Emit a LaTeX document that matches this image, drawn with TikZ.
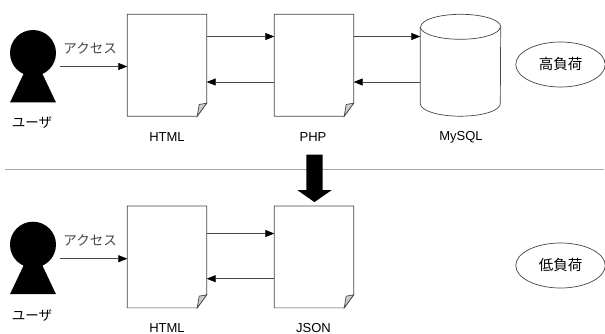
\documentclass[tikz,border=0pt]{standalone}
\usepackage{fontspec}
\setmainfont{Liberation Sans}
\newfontfamily\jpfont{Noto Sans CJK JP}
\usetikzlibrary{arrows.meta,shapes.geometric,shapes.arrows,positioning}
\definecolor{lineblack}{RGB}{70,70,70}
\definecolor{foldgray}{RGB}{205,205,205}
\definecolor{rulegray}{RGB}{170,170,170}
\tikzstyle{arrow} = [line width=0.7pt,color=lineblack,-{Triangle[length=9pt,width=7pt,color=black]}]
\tikzstyle{doc} = [rectangle, minimum width=79pt, minimum height=101.5pt, inner sep=0pt]
\tikzstyle{outline} = [line width=0.7pt, draw=lineblack]
\tikzstyle{label} = [font=\fontsize{13}{13}\selectfont, inner sep=0pt]
\tikzstyle{jplabel} = [font=\fontsize{13.5}{14}\selectfont\jpfont, inner sep=0pt]
\tikzstyle{load} = [ellipse, outline, minimum width=89.5pt, minimum height=45pt, inner sep=0pt, font=\fontsize{14.5}{15}\selectfont\jpfont]
\tikzstyle{head} = [circle, fill=black, minimum size=46pt, inner sep=0pt]
% page outline with the turned corner
\newcommand{\docshape}[1]{
  \draw[outline, fill=white] (#1.north west) -- (#1.north east) -- ([yshift=13pt]#1.south east) -- ([xshift=-9.5pt]#1.south east) -- (#1.south west) -- cycle;
  \draw[outline, fill=foldgray] ([yshift=13pt]#1.south east) -- ([xshift=-9.5pt]#1.south east) -- ([xshift=-7.5pt,yshift=11.7pt]#1.south east) -- cycle;
}
% drum outline on a plain node
\newcommand{\drumshape}[1]{
  \draw[outline, fill=white] ([yshift=-12.5pt]#1.north west) -- ([yshift=12.5pt]#1.south west) arc[start angle=180, end angle=360, x radius=40pt, y radius=12.5pt] -- ([yshift=-12.5pt]#1.north east) arc[start angle=0, end angle=180, x radius=40pt, y radius=12.5pt];
  \draw[outline] ([yshift=-12.5pt]#1.north west) arc[start angle=180, end angle=360, x radius=40pt, y radius=12.5pt];
}
% person figure under a head node
\newcommand{\usershape}[1]{
  \fill[black] ([yshift=-1pt]#1.center) -- ([xshift=23pt,yshift=-49.5pt]#1.center) -- ([xshift=-23pt,yshift=-49.5pt]#1.center) -- cycle;
}
\begin{document}
\begin{tikzpicture}[x=1pt, y=-1pt]
\useasboundingbox (0,0) rectangle (605,334);

% High load system
\node (userA) [head] at (33,53) {};
\usershape{userA}
\node (userAname) [jplabel] at (32,123) {ユーザ};
\coordinate (userAout) at (60,66.5);
\node (htmlA) [doc] at (167,65.25) {};
\docshape{htmlA}
\node (phpA) [doc] at (314,65.25) {};
\docshape{phpA}
\node (mysql) [doc, minimum width=80pt] at (460.5,65.25) {};
\drumshape{mysql}
\node (htmlAname) [label] at (167,137) {HTML};
\node (phpAname) [label] at (313,137) {PHP};
\node (mysqlname) [label] at (461,137) {MySQL};
\node (high) [load] at (560.5,64.5) {高負荷};

\draw[arrow] (userAout) -- node[above=12pt, xshift=-3.5pt, jplabel] {アクセス} (userAout -| htmlA.west);
\draw[arrow] ([yshift=28.75pt]htmlA.east) -- ([yshift=28.75pt]phpA.west);
\draw[arrow] ([yshift=-16.75pt]phpA.west) -- ([yshift=-16.75pt]htmlA.east);
\draw[arrow] ([yshift=28.75pt]phpA.east) -- ([yshift=28.75pt]mysql.west);
\draw[arrow] ([yshift=-16.75pt]mysql.west) -- ([yshift=-16.75pt]phpA.east);

% Divider
\coordinate (ruleL) at (5,169.5);
\coordinate (ruleR) at (604,169.5);
\draw[line width=1.2pt, rulegray] (ruleL) -- (ruleR);
\node (change) [single arrow, fill=black, rotate=-90, minimum height=47.5pt, inner xsep=0pt, inner ysep=8pt, single arrow head extend=9pt, single arrow tip angle=110] at (314.5,175.5) {};

% Low load system
\node (userB) [head] at (33,244.7) {};
\usershape{userB}
\node (userBname) [jplabel] at (32,316) {ユーザ};
\coordinate (userBout) at (60,258.7);
\node (htmlB) [doc] at (167,256.9) {};
\docshape{htmlB}
\node (json) [doc] at (314,256.9) {};
\docshape{json}
\node (htmlBname) [label] at (167,328) {HTML};
\node (jsonname) [label] at (313.5,328) {JSON};
\node (low) [load] at (560.5,265.5) {低負荷};

\draw[arrow] (userBout) -- node[above=12pt, xshift=-3.5pt, jplabel] {アクセス} (userBout -| htmlB.west);
\draw[arrow] ([yshift=23.4pt]htmlB.east) -- ([yshift=23.4pt]json.west);
\draw[arrow] ([yshift=-21.8pt]json.west) -- ([yshift=-21.8pt]htmlB.east);

\end{tikzpicture}
\end{document}
